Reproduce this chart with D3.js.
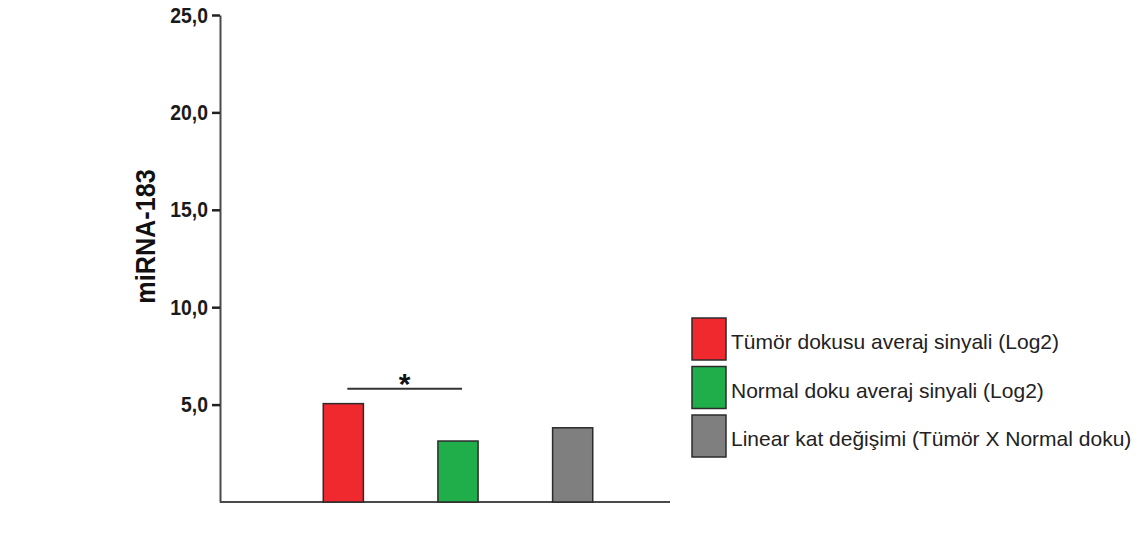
<!DOCTYPE html>
<html>
<head>
<meta charset="utf-8">
<script src="https://cdn.jsdelivr.net/npm/d3@7"></script>
<style>
  html, body { margin: 0; padding: 0; background: #fff; }
  svg { display: block; }
</style>
</head>
<body>
<svg id="chart" width="1142" height="536"></svg>
<script>
// miRNA-183 signal levels
const categories = ["Tümör dokusu averaj sinyali (Log2)", "Normal doku averaj sinyali (Log2)", "Linear kat değişimi (Tümör X Normal doku)"];
const values = [5.05, 3.13, 3.81];
const colors = ["#f0292f", "#1fae4a", "#7f7f7f"];
const yTicks = [5, 10, 15, 20, 25];
const yTitle = "miRNA-183";
const sigPair = [0, 1];
const sigMark = "*";

const svg = d3.select("#chart");
const font = "'Liberation Sans', Arial, sans-serif";

const x = d3.scaleBand()
  .domain(categories)
  .range([286, 630])
  .paddingInner(0.65)
  .paddingOuter(0.325);

const y = d3.scaleLinear().domain([0, 25]).range([502, 15]);

// y axis
const yAxis = d3.axisLeft(y)
  .tickValues(yTicks)
  .tickSize(8)
  .tickSizeOuter(0)
  .tickPadding(4)
  .tickFormat(d => d3.format(".1f")(d).replace(".", ","));

const gy = svg.append("g").attr("transform", "translate(220,0)").call(yAxis);
gy.select(".domain").attr("stroke", "#4a4a4a").attr("stroke-width", 2);
gy.selectAll(".tick line").attr("stroke", "#222").attr("stroke-width", 2.5);
gy.selectAll(".tick text")
  .attr("fill", "#1a1a1a")
  .style("font-family", font)
  .style("font-weight", "bold")
  .style("font-size", "22px")
  .each(function () {
    // slightly condensed numerals
    const w = this.getComputedTextLength();
    d3.select(this).attr("textLength", w * 0.88).attr("lengthAdjust", "spacingAndGlyphs");
  });

// baseline
svg.append("line")
  .attr("x1", 220).attr("x2", 670)
  .attr("y1", y(0)).attr("y2", y(0))
  .attr("stroke", "#4a4a4a").attr("stroke-width", 2);

// y title
const title = svg.append("text")
  .attr("transform", `translate(155,${(y(25) + y(0)) / 2 - 22}) rotate(-90)`)
  .attr("text-anchor", "middle")
  .style("font-family", font)
  .style("font-weight", "bold")
  .style("font-size", "28px")
  .attr("fill", "#111")
  .text(yTitle);
title.attr("textLength", title.node().getComputedTextLength() * 0.9)
  .attr("lengthAdjust", "spacingAndGlyphs");

// bars
svg.append("g").selectAll("rect")
  .data(categories)
  .join("rect")
  .attr("x", d => x(d))
  .attr("width", x.bandwidth())
  .attr("y", (d, i) => y(values[i]))
  .attr("height", (d, i) => y(0) - y(values[i]))
  .attr("fill", (d, i) => colors[i])
  .attr("stroke", "#2b2b2b")
  .attr("stroke-width", 1.5);

// significance bracket
const c0 = x(categories[sigPair[0]]) + x.bandwidth() / 2;
const c1 = x(categories[sigPair[1]]) + x.bandwidth() / 2;
const sigY = y(d3.max(sigPair, i => values[i])) - 15;
svg.append("line")
  .attr("x1", c0 + 4).attr("x2", c1 + 4)
  .attr("y1", sigY).attr("y2", sigY)
  .attr("stroke", "#333").attr("stroke-width", 2);
svg.append("text")
  .attr("x", (c0 + c1) / 2 + 4)
  .attr("y", sigY + 5)
  .attr("text-anchor", "middle")
  .style("font-family", font)
  .style("font-weight", "bold")
  .style("font-size", "30px")
  .attr("fill", "#111")
  .text(sigMark);

// legend
const legend = svg.append("g").attr("transform", "translate(692,318)");
const item = legend.selectAll("g")
  .data(categories)
  .join("g")
  .attr("transform", (d, i) => `translate(0,${i * 48.5})`);
item.append("rect")
  .attr("width", 34).attr("height", 42)
  .attr("fill", (d, i) => colors[i])
  .attr("stroke", "#2b2b2b")
  .attr("stroke-width", 1.5);
item.append("text")
  .attr("x", 39)
  .attr("y", 31)
  .style("font-family", font)
  .style("font-size", "21px")
  .attr("fill", "#222")
  .text(d => d);
</script>
</body>
</html>
